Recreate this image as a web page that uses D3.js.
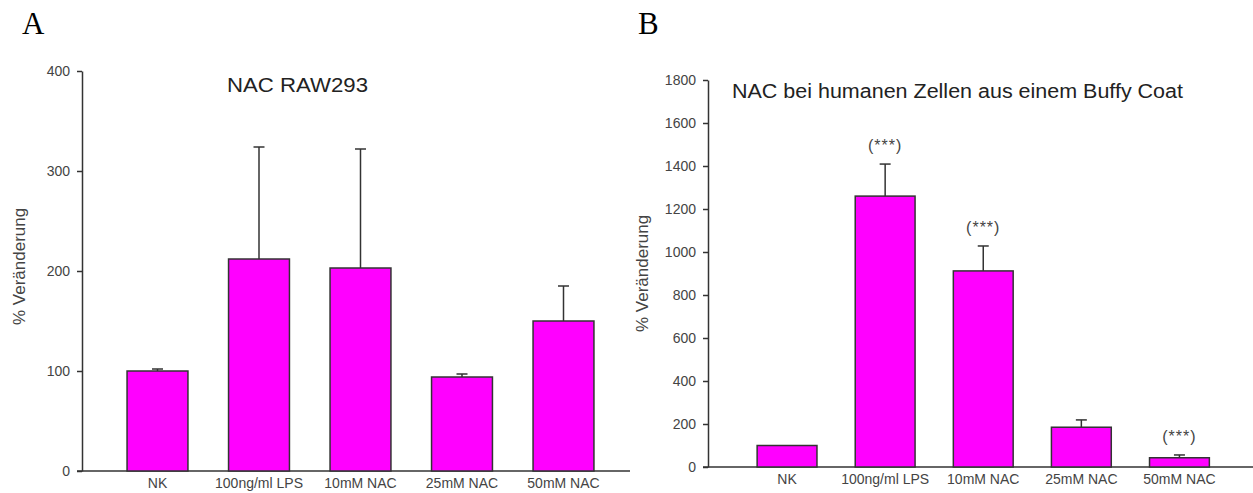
<!DOCTYPE html>
<html>
<head>
<meta charset="utf-8">
<script src="https://cdn.jsdelivr.net/npm/d3@7"></script>
<style>
  body { margin: 0; background: #fff; }
  svg { display: block; font-family: "Liberation Sans", Arial, sans-serif; }
</style>
</head>
<body>
<div id="chart"></div>
<script>
// Categories shared by both panels
const categories = ['NK', '100ng/ml LPS', '10mM NAC', '25mM NAC', '50mM NAC'];

// Panel A: NAC RAW293
const rawMeans = [100, 212, 203, 94, 150];
const rawErrors = [2, 112, 119, 3, 35];
const rawTicks = [0, 100, 200, 300, 400];

// Panel B: human cells from a buffy coat
const buffyMeans = [100, 1260, 912, 185, 43];
const buffyErrors = [0, 149, 116, 34, 13];
const buffySignif = ['', '(***)', '(***)', '', '(***)'];
const buffyTicks = [0, 200, 400, 600, 800, 1000, 1200, 1400, 1600, 1800];

const width = 1253;
const height = 493;
const ink = '#333';

const svg = d3.select('#chart')
    .append('svg')
    .attr('width', width)
    .attr('height', height);

function drawPanel(opts) {
    const g = svg.append('g');

    const y = d3.scaleLinear()
        .domain([0, opts.max])
        .range([opts.y0, opts.y1]);

    const x = d3.scaleBand()
        .domain(categories)
        .range(opts.xRange)
        .paddingInner(opts.padInner)
        .paddingOuter(opts.padInner / 2);

    // y axis
    const yAxis = g.append('g')
        .attr('transform', `translate(${opts.axisX},0)`)
        .call(d3.axisLeft(y)
            .tickValues(opts.ticks)
            .tickFormat(d3.format('d'))
            .tickSize(5).tickSizeOuter(0).tickPadding(7));
    yAxis.select('.domain').attr('stroke', ink).attr('stroke-width', 1.5);
    yAxis.selectAll('.tick line').attr('stroke', ink).attr('stroke-width', 1.5);
    yAxis.selectAll('.tick text').attr('fill', '#444').style('font-size', '14px');

    // x axis line
    g.append('line')
        .attr('x1', opts.axisX - 5)
        .attr('x2', opts.xEnd)
        .attr('y1', y(0))
        .attr('y2', y(0))
        .attr('stroke', ink)
        .attr('stroke-width', 1.5);

    const xAxis = g.append('g')
        .attr('transform', `translate(0,${y(0)})`)
        .call(d3.axisBottom(x).tickSize(0).tickPadding(7));
    xAxis.select('.domain').remove();
    xAxis.selectAll('.tick text').attr('fill', '#444').style('font-size', '14px');

    const rows = categories.map((c, i) => ({
        cat: c, mean: opts.means[i], err: opts.errors[i], sig: opts.signif ? opts.signif[i] : ''
    }));

    // error bars (drawn first, bars cover the lower part)
    const eb = g.selectAll('.err')
        .data(rows.filter(d => d.err > 0))
        .join('g')
        .attr('class', 'err');
    eb.append('line')
        .attr('x1', d => x(d.cat) + x.bandwidth() / 2)
        .attr('x2', d => x(d.cat) + x.bandwidth() / 2)
        .attr('y1', d => y(d.mean))
        .attr('y2', d => y(d.mean + d.err))
        .attr('stroke', ink)
        .attr('stroke-width', 1.5);
    eb.append('line')
        .attr('x1', d => x(d.cat) + x.bandwidth() / 2 - 5.5)
        .attr('x2', d => x(d.cat) + x.bandwidth() / 2 + 5.5)
        .attr('y1', d => y(d.mean + d.err))
        .attr('y2', d => y(d.mean + d.err))
        .attr('stroke', ink)
        .attr('stroke-width', 1.5);

    // bars
    g.selectAll('.bar')
        .data(rows)
        .join('rect')
        .attr('class', 'bar')
        .attr('x', d => x(d.cat))
        .attr('width', x.bandwidth())
        .attr('y', d => y(d.mean))
        .attr('height', d => y(0) - y(d.mean))
        .attr('fill', '#ff00ff')
        .attr('stroke', ink)
        .attr('stroke-width', 1.5);

    // significance marks
    g.selectAll('.sig')
        .data(rows.filter(d => d.sig))
        .join('text')
        .attr('class', 'sig')
        .attr('x', d => x(d.cat) + x.bandwidth() / 2)
        .attr('y', d => y(d.mean + d.err) - 13)
        .attr('text-anchor', 'middle')
        .attr('fill', '#444')
        .style('font-size', '16px')
        .style('letter-spacing', '1px')
        .text(d => d.sig);

    // y label
    g.append('text')
        .attr('transform', `translate(${opts.labelX},${opts.labelY}) rotate(-90)`)
        .attr('text-anchor', 'start')
        .attr('fill', '#444')
        .style('font-size', '17px')
        .text('% Veränderung');

    // title
    g.append('text')
        .attr('x', opts.titleX)
        .attr('y', opts.titleY)
        .attr('fill', '#222')
        .style('font-size', '20px')
        .attr('textLength', opts.titleLen)
        .attr('lengthAdjust', 'spacingAndGlyphs')
        .text(opts.title);

    // panel letter
    g.append('text')
        .attr('x', opts.letterX)
        .attr('y', 34)
        .attr('fill', '#000')
        .style('font-family', '"Liberation Serif", "Times New Roman", serif')
        .style('font-size', '31px')
        .text(opts.letter);
}

drawPanel({
    letter: 'A', letterX: 22,
    title: 'NAC RAW293', titleX: 227, titleY: 92, titleLen: 141,
    max: 400, y0: 471, y1: 71, ticks: rawTicks,
    axisX: 82, xEnd: 630, xRange: [106.75, 614.25], padInner: 0.4,
    labelX: 25, labelY: 325,
    means: rawMeans, errors: rawErrors
});

drawPanel({
    letter: 'B', letterX: 638,
    title: 'NAC bei humanen Zellen aus einem Buffy Coat', titleX: 732, titleY: 98, titleLen: 451,
    max: 1800, y0: 467, y1: 80, ticks: buffyTicks,
    axisX: 708, xEnd: 1253, xRange: [738, 1228.5], padInner: 0.39,
    labelX: 648, labelY: 332,
    means: buffyMeans, errors: buffyErrors, signif: buffySignif
});
</script>
</body>
</html>
